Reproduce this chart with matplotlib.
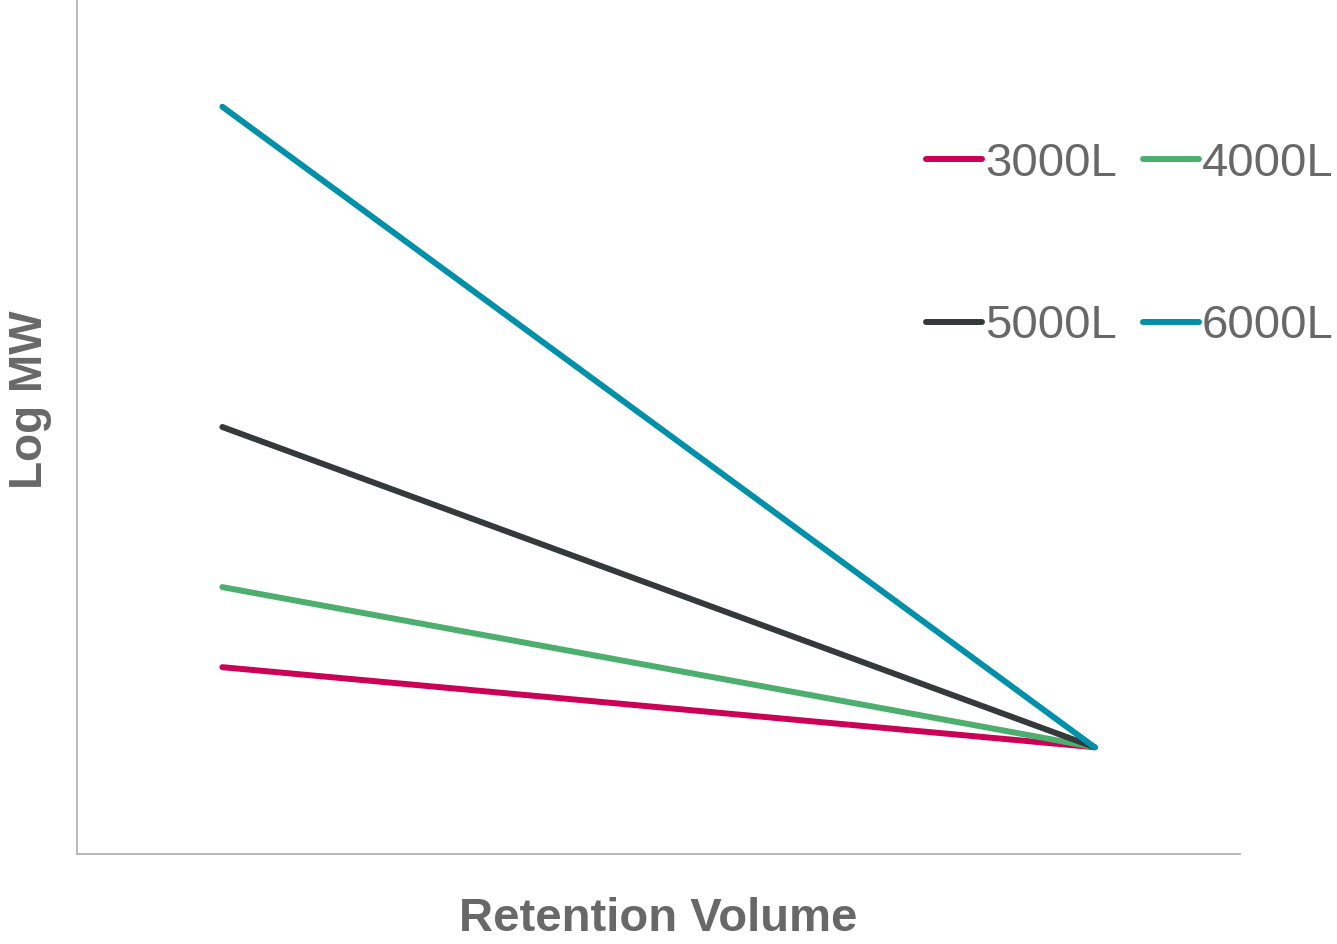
import matplotlib
matplotlib.use("Agg")
import matplotlib.pyplot as plt

# Calibration lines: each column size runs from its exclusion point down to a shared total-permeation point
series = ["3000L", "4000L", "5000L", "6000L"]
retention_volume = [1, 7]
log_mw_3000 = [1.75, 1.0]
log_mw_4000 = [2.5, 1.0]
log_mw_5000 = [4.0, 1.0]
log_mw_6000 = [7.0, 1.0]
colors = ["#cc0055", "#4caf6e", "#343a3a", "#0090aa"]

plt.rcParams["font.family"] = ["Liberation Sans", "DejaVu Sans"]

fig = plt.figure(figsize=(13.37, 9.44), dpi=100)
ax = fig.add_axes([77 / 1337, 1 - 854 / 944, 1163 / 1337, 854 / 944])

lines = []
for name, ys, c in zip(series, [log_mw_3000, log_mw_4000, log_mw_5000, log_mw_6000], colors):
    (ln,) = ax.plot(retention_volume, ys, color=c, lw=4.3, solid_capstyle="round", label=name)
    lines.append(ln)

ax.set_xlim(0, 8)
ax.set_ylim(0, 8)
ax.set_xticks([])
ax.set_yticks([])
for s in ["top", "right"]:
    ax.spines[s].set_visible(False)
for s in ["left", "bottom"]:
    ax.spines[s].set_color("#b3b3b3")
    ax.spines[s].set_linewidth(1.3)

fig.text(658 / 1337, 1 - 931 / 944, "Retention Volume", ha="center", va="baseline",
         fontsize=34, fontweight="bold", color="#686868")
fig.text(30 / 1337, 1 - 400 / 944, "Log MW", ha="center", va="center", rotation=90,
         fontsize=33, fontweight="bold", color="#686868")

# legend filled row by row: 3000L 4000L / 5000L 6000L
order = [0, 2, 1, 3]
leg = ax.legend([lines[i] for i in order], [series[i] for i in order],
                loc="upper left", bbox_to_anchor=(926 / 1337, 1 - 142 / 944),
                bbox_transform=fig.transFigure, ncol=2, frameon=False,
                fontsize=34, handlelength=1.19, handletextpad=0.06,
                columnspacing=0.55, labelspacing=2.5, borderpad=0, borderaxespad=0)
for t in leg.get_texts():
    t.set_color("#686868")
for h in leg.get_lines():
    h.set_solid_capstyle("round")

fig.savefig("out.png", dpi=100, facecolor="white")
